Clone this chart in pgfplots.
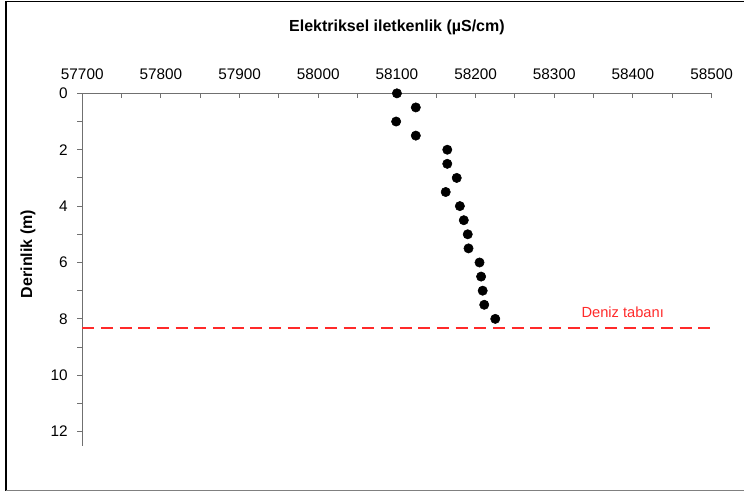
\documentclass[border=0pt]{standalone}
\usepackage{pgfplots}
\pgfplotsset{compat=1.18}
\usepackage{pgfplotstable}
\usepackage{fontspec}
\setmainfont{Liberation Sans}
\definecolor{axgray}{HTML}{707070}
\definecolor{refred}{HTML}{FF2A2A}

\pgfplotstableread{
x y
58100 0
58124 0.5
58099 1
58124 1.5
58164 2
58164 2.5
58176 3
58162 3.5
58180 4
58185 4.5
58190 5
58191 5.5
58205 6
58207 6.5
58209 7
58211 7.5
58225 8
}\datatable

\begin{document}
\begin{tikzpicture}
\useasboundingbox (-61.7pt,70pt) rectangle (496.3pt,-299pt);
\draw[line width=1.1pt, black] (-57.2pt,-297.9pt) -- (-57.2pt,68.9pt) -- (496.3pt,68.9pt);
\draw[line width=1.1pt, gray] (-57.2pt,-297.9pt) -- (496.3pt,-297.9pt);
\begin{axis}[
 at={(0,0)}, anchor=north west,
 scale only axis, width=472pt, height=264.3pt,
 xmin=57700, xmax=58500, ymin=0, ymax=12.5,
 y dir=reverse,
 axis x line*=top,
 axis y line*=left,
 xtick={57700,57800,...,58500},
 ytick={0,2,...,12},
 scaled x ticks=false, scaled y ticks=false,
 minor x tick num=1, minor y tick num=1,
 xtick align=inside, ytick align=outside,
 major tick length=3.75pt, minor tick length=3.75pt,
 tick style={axgray, line width=0.75pt},
 axis line style={axgray, line width=0.75pt, -},
 ticklabel style={font=\fontsize{11.5}{13}\selectfont},
 xticklabel style={yshift=6.5pt},
 yticklabel style={xshift=-3.75pt},
 xticklabel={\pgfmathprintnumber[fixed,precision=0,1000 sep={}]{\tick}},
 /pgf/number format/assume math mode=true,
 /pgf/number format/1000 sep={},
 clip=false,
]
\addplot[only marks, mark=*, mark size=3.5pt, black] table[x=x,y=y]{\datatable};
\addplot[refred, line width=1.1pt, dash pattern=on 9pt off 5pt] coordinates {(57700,8.33) (58500,8.33)};
\node[refred, font=\fontsize{11}{13}\selectfont] at (axis cs:58387,7.76) {Deniz tabanı};
\end{axis}
\node[font=\bfseries\fontsize{12}{14}\selectfont] at (236pt,49.7pt) {Elektriksel iletkenlik (µS/cm)};
\node[font=\bfseries\fontsize{12}{14}\selectfont, rotate=90] at (-40.7pt,-120.5pt) {Derinlik (m)};
\end{tikzpicture}
\end{document}
